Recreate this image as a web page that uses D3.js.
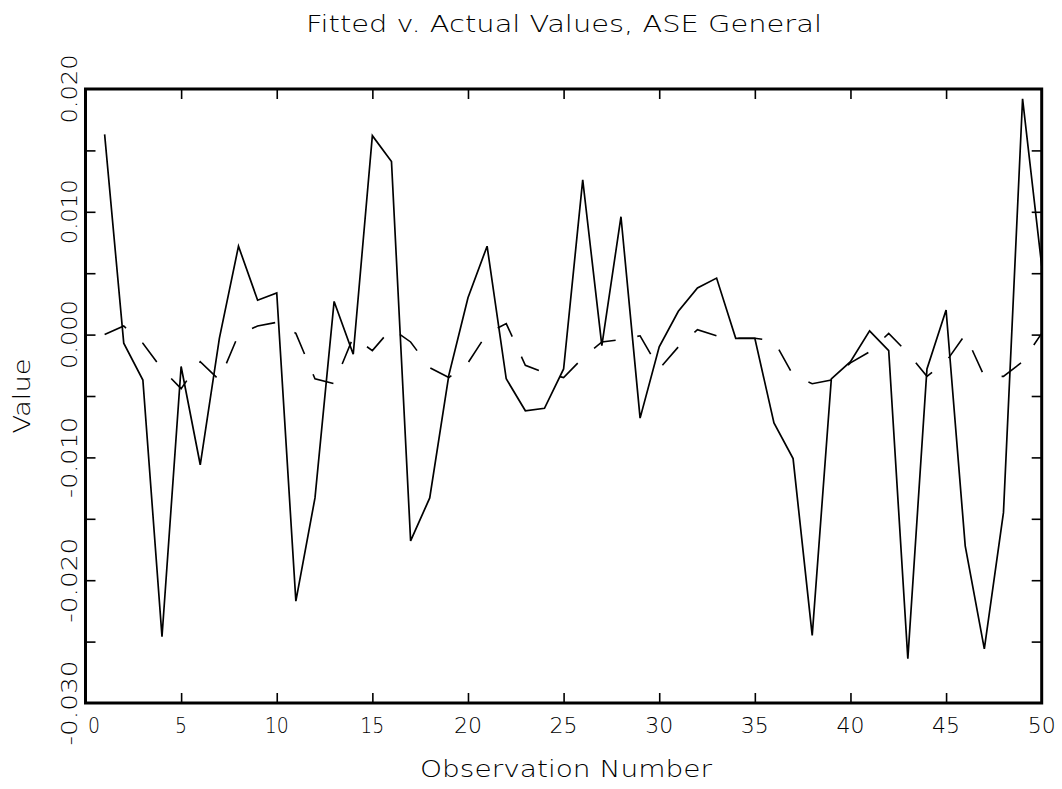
<!DOCTYPE html>
<html><head><meta charset="utf-8">
<script src="https://cdn.jsdelivr.net/npm/d3@7"></script>
<style>
html,body{margin:0;padding:0;background:#fff;}
svg{display:block;}
text{font-family:"DejaVu Sans","Liberation Sans",Arial,sans-serif;font-weight:200;fill:#000;}
</style></head><body>
<svg id="chart" width="1062" height="789"></svg>
<script>
const observation = [1,2,3,4,5,6,7,8,9,10,11,12,13,14,15,16,17,18,19,20,21,22,23,24,25,26,27,28,29,30,31,32,33,34,35,36,37,38,39,40,41,42,43,44,45,46,47,48,49,50];
const actual = [0.0163,-0.0007,-0.0037,-0.0246,-0.0026,-0.0106,-0.0003,0.0072,0.0028,0.0034,
  -0.0217,-0.0133,0.0027,-0.0016,0.0162,0.0141,-0.0168,-0.0133,-0.0033,0.0030,
  0.0072,-0.0036,-0.0062,-0.0060,-0.0028,0.0126,-0.0009,0.0096,-0.0068,-0.0010,
  0.0019,0.0038,0.0046,-0.0003,-0.0003,-0.0072,-0.0101,-0.0245,-0.0036,-0.0022,
  0.0003,-0.0013,-0.0264,-0.0028,0.0020,-0.0172,-0.0256,-0.0145,0.0192,0.0056];
const fitted = [0.0000,0.0007,-0.0007,-0.0028,-0.0044,-0.0022,-0.0037,0.0000,0.0007,0.0010,
  0.0001,-0.0036,-0.0040,-0.0002,-0.0013,0.0005,-0.0006,-0.0027,-0.0035,-0.0023,
  0.0001,0.0009,-0.0025,-0.0031,-0.0035,-0.0019,-0.0006,-0.0004,-0.0001,-0.0028,
  -0.0010,0.0004,-0.0001,-0.0003,-0.0003,-0.0005,-0.0033,-0.0040,-0.0037,-0.0023,
  -0.0014,0.0001,-0.0015,-0.0034,-0.0022,0.0000,-0.0034,-0.0034,-0.0022,0.0001];
const xTickValues = [0,5,10,15,20,25,30,35,40,45,50];
const xTickLabels = ["0","5","10","15","20","25","30","35","40","45","50"];
const yTickValues = [-0.025,-0.020,-0.015,-0.010,-0.005,0.000,0.005,0.010,0.015];
const yLabelValues = [-0.030,-0.020,-0.010,0.000,0.010,0.020];
const yLabelText = ["-0.030","-0.020","-0.010","0.000","0.010","0.020"];
const titleText = "Fitted v. Actual Values, ASE General";
const xTitleText = "Observation Number";
const yTitleText = "Value";

const svg = d3.select("#chart");
svg.append("rect").attr("width",1062).attr("height",789).attr("fill","#fff");

const plot = {left:85.5, right:1041.7, top:89, bottom:703};
const x = d3.scaleLinear().domain([0,50]).range([plot.left, plot.right]);
const y = d3.scaleLinear().domain([-0.03,0.02]).range([plot.bottom, plot.top]);

// text width helper (Hershey-like advances)
function hersheyLen(s){
  let w=0;
  for(const c of s){ w += (c==='.'||c===',')?9:(c==='1'?12:16); }
  return w-4;
}

const inner = xTickValues.slice(1,-1);
function styleAxis(g){
  g.select(".domain").remove();
  g.selectAll(".tick line").attr("stroke","#000").attr("stroke-width",1.6);
  g.selectAll(".tick text").remove();
}
svg.append("g").attr("transform",`translate(0,${plot.bottom})`)
  .call(d3.axisBottom(x).tickValues(inner).tickSizeInner(-10).tickSizeOuter(0).tickFormat(""))
  .call(styleAxis);
svg.append("g").attr("transform",`translate(0,${plot.top})`)
  .call(d3.axisTop(x).tickValues(inner).tickSizeInner(-10).tickSizeOuter(0).tickFormat(""))
  .call(styleAxis);
svg.append("g").attr("transform",`translate(${plot.left},0)`)
  .call(d3.axisLeft(y).tickValues(yTickValues).tickSizeInner(-10).tickSizeOuter(0).tickFormat(""))
  .call(styleAxis);
svg.append("g").attr("transform",`translate(${plot.right},0)`)
  .call(d3.axisRight(y).tickValues(yTickValues).tickSizeInner(-10).tickSizeOuter(0).tickFormat(""))
  .call(styleAxis);

svg.append("clipPath").attr("id","clipPlot").append("rect")
  .attr("x",plot.left).attr("y",plot.top).attr("width",plot.right-plot.left).attr("height",plot.bottom-plot.top);

const actualData = observation.map((n,i)=>({n, v:actual[i]}));
const fittedData = observation.map((n,i)=>({n, v:fitted[i]}));
const line = d3.line().x(d=>x(d.n)).y(d=>y(d.v));

svg.append("path").datum(fittedData).attr("d",line)
  .attr("fill","none").attr("stroke","#000").attr("stroke-width",1.6)
  .attr("stroke-dasharray","24,22").attr("clip-path","url(#clipPlot)");
svg.append("path").datum(actualData).attr("d",line)
  .attr("fill","none").attr("stroke","#000").attr("stroke-width",1.7)
  .attr("stroke-linejoin","miter").attr("clip-path","url(#clipPlot)");

svg.append("rect").attr("x",plot.left).attr("y",plot.top)
  .attr("width",plot.right-plot.left).attr("height",plot.bottom-plot.top)
  .attr("fill","none").attr("stroke","#000").attr("stroke-width",3);

svg.append("g").selectAll("text").data(xTickValues).join("text")
  .attr("x",(d,i)=> x(d) + (i===0?8.5:0))
  .attr("y",733)
  .attr("text-anchor","middle")
  .attr("font-size",21)
  .attr("textLength",(d,i)=>hersheyLen(xTickLabels[i]))
  .attr("lengthAdjust","spacingAndGlyphs")
  .text((d,i)=>xTickLabels[i]);

svg.append("g").selectAll("text").data(yLabelValues).join("text")
  .attr("transform",d=>`translate(77,${y(d)}) rotate(-90)`)
  .attr("text-anchor","middle")
  .attr("font-size",22)
  .attr("textLength",(d,i)=>hersheyLen(yLabelText[i]))
  .attr("lengthAdjust","spacingAndGlyphs")
  .text((d,i)=>yLabelText[i]);

svg.append("text").attr("x",564).attr("y",32).attr("text-anchor","middle")
  .attr("font-size",23).attr("textLength",516).attr("lengthAdjust","spacingAndGlyphs")
  .text(titleText);
svg.append("text").attr("x",566).attr("y",777).attr("text-anchor","middle")
  .attr("font-size",23).attr("textLength",292).attr("lengthAdjust","spacingAndGlyphs")
  .text(xTitleText);
svg.append("text").attr("transform",`translate(30,${(plot.top+plot.bottom)/2}) rotate(-90)`)
  .attr("text-anchor","middle")
  .attr("font-size",23).attr("textLength",75).attr("lengthAdjust","spacingAndGlyphs")
  .text(yTitleText);
</script>
</body></html>
